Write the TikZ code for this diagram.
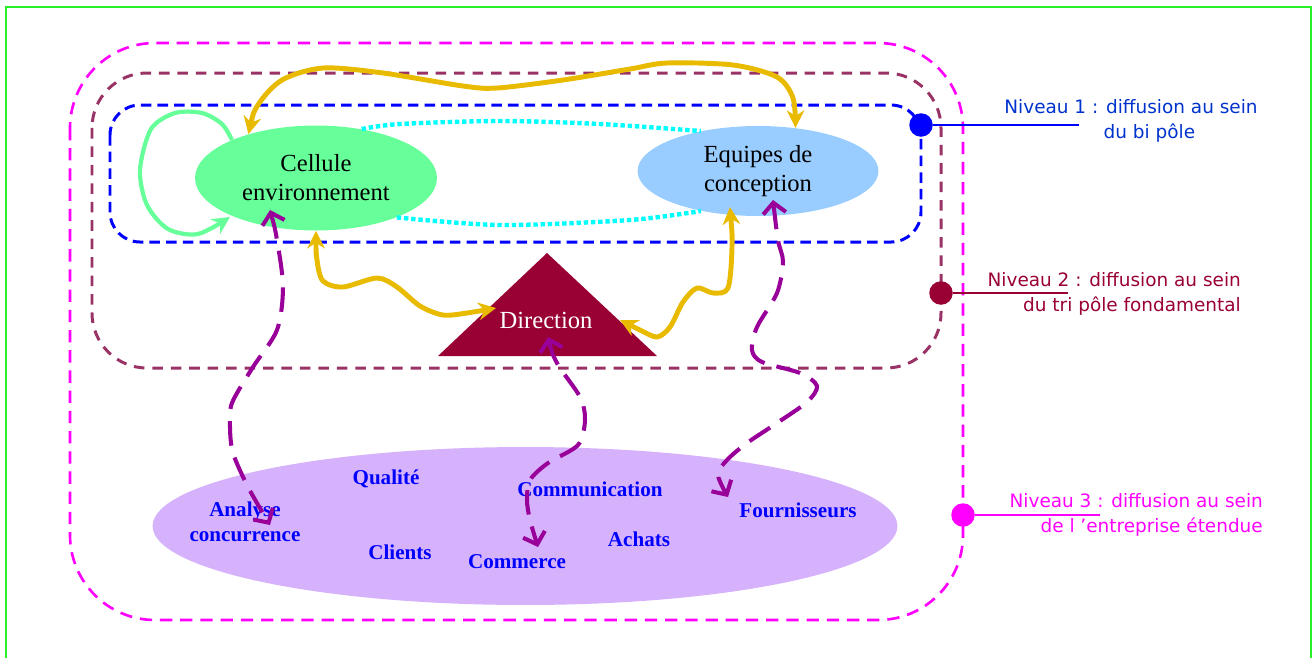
\documentclass[tikz,border=0pt]{standalone}
\usepackage{fontspec}
\setmainfont{Liberation Serif}
\newfontfamily\levelfont{DejaVu Sans}
\usetikzlibrary{arrows.meta,shapes.geometric}

\definecolor{cellgreen}{RGB}{102,255,153}
\definecolor{equipblue}{RGB}{153,204,255}
\definecolor{dirred}{RGB}{153,0,51}
\definecolor{lilas}{RGB}{214,178,252}
\definecolor{flowgold}{RGB}{232,186,0}
\definecolor{linkviolet}{RGB}{153,0,153}
\definecolor{niv1line}{RGB}{0,0,255}
\definecolor{niv2line}{RGB}{153,51,102}
\definecolor{niv3line}{RGB}{255,0,255}
\definecolor{niv1text}{RGB}{0,51,204}
\definecolor{pontcyan}{RGB}{0,255,255}
\definecolor{framegreen}{RGB}{40,240,40}

\begin{document}
\begin{tikzpicture}[x=0.02cm,y=-0.02cm,
    pole/.style = {ellipse,inner sep=0pt,align=center,font=\fontsize{14}{16.5}\selectfont},
    metier/.style = {inner sep=1pt,align=center,text=blue,font=\fontsize{12}{14}\selectfont\bfseries},
    flux/.style = {flowgold,line width=2.8pt,{Stealth[length=10pt,width=10pt]}-{Stealth[length=10pt,width=10pt]}},
    lien/.style = {linkviolet,line width=2.3pt,dash pattern=on 14pt off 7pt,{Straight Barb[length=6pt,width=13pt]}-{Straight Barb[length=6pt,width=13pt]}},
    pont/.style = {pontcyan,line width=2.5pt,dash pattern=on 2.5pt off 1.6pt},
    niveau/.style = {font=\levelfont\fontsize{10.5}{14}\selectfont}]
\useasboundingbox (0,0) rectangle (1313,657);
% cadre
\draw[framegreen,line width=1.3pt] (6,660) -- (6,7) -- (1311,7) -- (1311,660);
% les trois niveaux
\draw[niv3line,line width=1.5pt,dash pattern=on 7pt off 4.5pt,rounded corners=1.7cm] (70,43) rectangle (963,620);
\draw[niv2line,line width=1.7pt,dash pattern=on 6pt off 4.5pt,rounded corners=1.1cm] (92,73) rectangle (941,368);
\draw[niv1line,line width=1.7pt,dash pattern=on 6pt off 3.5pt,rounded corners=0.6cm] (110,105) rectangle (921,242);

\node[pole,fill=cellgreen,minimum width=4.84cm,minimum height=2.1cm] (cell) at (316,178) {Cellule\\environnement};
\node[pole,fill=equipblue,minimum width=4.82cm,minimum height=1.8cm] (equipes) at (758,171) {Equipes de\\conception};
\draw[pont] plot[smooth] coordinates {(cell.47) (400,124) (500,121) (600,124) (equipes.145)};
\draw[pont] plot[smooth] coordinates {(cell.-26) (500,225) (630,220) (equipes.215)};

\fill[dirred] (547,253) -- (657,356) -- (438,356) -- cycle;
\node[text=white,font=\fontsize{14}{16}\selectfont] (dir) at (546,320) {Direction};

% entreprise etendue
\node[ellipse,fill=lilas,inner sep=0pt,minimum width=14.9cm,minimum height=3.16cm] (etendue) at (525,526) {};
\foreach \n/\x/\y/\t in {qual/386/479/Qualité, comm/590/489/Communication, ana/245/522/{Analyse\\concurrence},
                          cli/400/552/Clients, commerce/517/562/Commerce, achats/639/539/Achats, fourn/798/510/Fournisseurs}
    \node[metier] (\n) at (\x,\y) {\t};

% flux
\draw[flux] plot[smooth] coordinates {(cell.147) (258,105) (282,80) (323,68) (383,73) (463,86) (497,88) (563,80) (630,69) (667,63) (733,65) (777,77) (793,98) (equipes.49)};
\draw[flux] plot[smooth] coordinates {(cell.-90) (317,260) (323,281) (343,287) (377,278) (397,287) (420,306) (443,315) (467,313) ([shift={(-50,-12)}]dir.center)};
\draw[flux] plot[smooth] coordinates {([shift={(-28,36)}]equipes.center) (732,247) (728,288) (713,293) (697,288) (683,302) (670,327) (657,337) (640,330) ([shift={(74,0)}]dir.center)};
\draw[cellgreen,line width=2.4pt,-{Stealth[length=10pt,width=10pt]}] plot[smooth] coordinates {([shift={(-84,-38)}]cell.center) (222,124) (202,113) (175,113) (151,129) (140,170) (147,205) (168,229) (198,234) ([shift={(-86,39)}]cell.center)};

\draw[lien] plot[smooth] coordinates {([shift={(-46,32)}]cell.center) (277,240) (283,287) (277,330) (253,367) (232,403) (230,427) (233,453) (248,487) ([shift={(25,3)}]ana.center)};
\draw[lien] plot[smooth] coordinates {([shift={(2,17)}]dir.center) (557,363) (580,397) (585,420) (578,445) (548,463) (530,480) (527,500) (530,520) ([shift={(21,-15)}]commerce.center)};
\draw[lien] plot[smooth] coordinates {([shift={(15,29)}]equipes.center) (778,240) (783,262) (777,293) (757,327) (752,350) (762,362) (800,373) (817,386) (807,402) (777,423) (747,443) (727,460) (718,475) ([shift={(-70,-13)}]fourn.center)};

% legendes des niveaux
\foreach \n/\c/\x/\y/\e in {niv1/niv1line/921/125/1079, niv2/dirred/941/293/1068, niv3/niv3line/963/515/1100} {
    \node[circle,fill=\c,inner sep=0pt,minimum size=0.47cm] (\n) at (\x,\y) {};
    \coordinate (\n end) at (\e,\y);
    \draw[\c,line width=1.5pt] (\n) -- (\n end);
}
\node[niveau,text=niv1text,align=center] (niv1txt) at (1131,121) {Niveau 1 : diffusion au sein\\\hspace*{2em}du bi pôle};
\node[niveau,text=dirred,align=right,anchor=east] (niv2txt) at (1247,294) {Niveau 2 : diffusion au sein\\du tri pôle fondamental};
\node[niveau,text=niv3line,align=right,anchor=east] (niv3txt) at (1269,515) {Niveau 3 : diffusion au sein\\de l ’entreprise étendue};
\end{tikzpicture}
\end{document}
